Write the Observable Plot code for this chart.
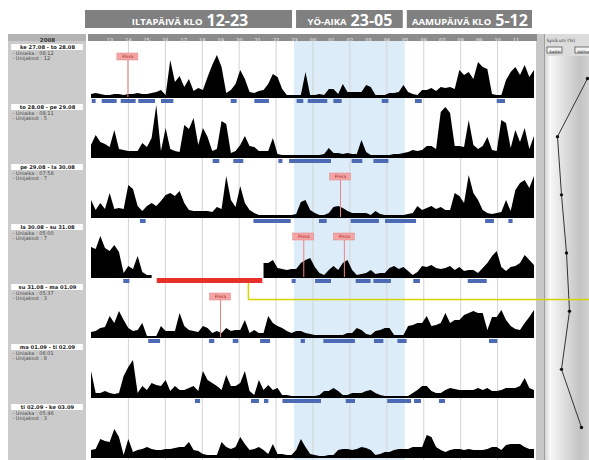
<!DOCTYPE html>
<html><head><meta charset="utf-8">
<script src="https://cdn.jsdelivr.net/npm/d3@7"></script>
<script src="https://cdn.jsdelivr.net/npm/@observablehq/plot@0.6"></script>
<style>
body{margin:0;background:#fff;}
#chart{position:relative;width:589px;height:460px;overflow:hidden;background:#fff;}
#chart svg{position:absolute;left:0;top:0;}
</style></head><body><div id="chart"></div>
<script>
// ---------- data ----------
const dayLabels = ["ke 27.08 - to 28.08","to 28.08 - pe 29.08","pe 29.08 - la 30.08","la 30.08 - su 31.08","su 31.08 - ma 01.09","ma 01.09 - ti 02.09","ti 02.09 - ke 03.09"];
const sleepTimes = ["08:12","08:11","07:58","05:00","05:37","06:01","05:46"];
const sleepCounts = [12,5,7,7,3,8,3];
const deepSleepPct = [42,12,16,21,24,16,36];

const periodNames = ["ILTAPÄIVÄ KLO","YÖ-AIKA","AAMUPÄIVÄ KLO"];
const periodRanges = ["12-23","23-05","5-12"];
const periodStart = [12,23,29];
const periodEnd = [23,29,36];

const hourTicks = [13,14,15,16,17,18,19,20,21,22,23,24,25,26,27,28,29,30,31,32,33,34,35];
const hourLabels = ["13","14","15","16","17","18","19","20","21","22","23","00","01","02","03","04","05","06","07","08","09","10","11"];
const gridHours = [14,16,18,20,22,24,26,28,30,32,34];

// activity, 15-minute readings from 12:00 to 12:00 next day
const activityRow1 = [3,4,3,2, 2,3,3,2, 3,3,4,3, 3,4,5,7, 2,37,15,21, 10,18,6,9, 7,20,32,42, 30,4,7,13, 27,18,5,4, 6,7,13,23, 20,8,2,2, 2,2,25,2, 2,3,2,8, 8,3,13,5, 5,5,5,12, 10,2,2,2, 4,4,5,12, 5,3,2,7, 7,9,6,10, 9,10,8,27, 22,25,18,35, 30,28,3,2, 2,17,25,30, 22,32,20,27];
const activityRow2 = [12,22,15,13, 10,27,8,7, 6,6,6,14, 10,19,52,6, 29,8,6,5, 32,28,39,12, 29,20,6,8, 36,33,4,6, 12,21,11,10, 6,6,6,19, 3,2,2,2, 2,2,2,2, 2,2,3,9, 4,4,3,4, 3,3,17,5, 2,2,2,2, 2,3,3,4, 5,7,6,7, 11,11,8,45, 50,44,11,11, 10,37,12,8, 11,20,7,6, 37,34,9,27, 15,29,8,21];
const activityRow3 = [17,7,14,8, 24,8,9,8, 32,28,11,6, 11,14,11,16, 22,24,21,26, 14,7,6,6, 6,6,5,10, 8,41,17,10, 31,14,7,4, 2,2,2,2, 2,2,2,2, 3,15,17,7, 4,2,2,4, 10,11,9,6, 4,4,4,4, 2,6,3,2, 2,2,2,2, 3,4,11,7, 9,11,8,10, 7,7,24,21, 14,42,24,17, 7,4,3,4, 5,17,6,27, 34,37,29,41];
const activityRow4 = [30,28,41,29, 26,32,25,4, 11,8,21,5, 2,2,null,null, null,null,null,null, null,null,null,null, null,null,null,null, null,null,null,null, null,null,null,null, null,14,14,17, 9,8,7,8, 8,14,17,19, 10,4,2,7, 11,7,14,17, 7,2,3,4, 7,3,4,4, 9,11,8,10, 6,2,5,11, 10,12,9,8, 9,11,7,10, 6,7,7,4, 9,14,21,26, 10,6,10,11, 14,22,17,12];
const activityRow5 = [5,6,9,10, 21,14,26,17, 9,6,7,14, 1,1,1,11, 6,6,6,24, 11,7,6,5, 11,9,4,6, 4,9,6,7, 7,17,4,7, 4,4,21,14, 11,9,6,4, 6,6,4,3, 2,2,2,2, 2,2,2,4, 4,9,7,3, 2,6,7,9, 9,2,2,2, 11,12,14,14, 21,11,12,14, 24,14,17,17, 22,24,26,24, 24,7,20,20, 27,17,11,8, 7,14,20,27];
const activityRow6 = [26,4,4,6, 4,3,4,21, 30,37,4,11, 7,14,12,11, 17,6,11,7, 7,9,11,6, 26,17,14,11, 7,22,11,11, 14,26,6,2, 17,7,12,7, 9,2,2,1, 1,1,1,1, 1,2,6,6, 9,6,2,2, 4,4,4,6, 7,4,2,1, 1,1,1,1, 1,4,7,11, 11,6,4,4, 7,9,8,7, 7,7,7,9, 7,9,6,6, 7,9,9,9, 11,19,9,7];
const activityRow7 = [7,8,18,16, 15,28,20,2, 18,5,7,8, 10,8,7,7, 8,8,9,10, 10,15,7,6, 3,2,2,2, 15,10,8,10, 20,13,7,8, 10,7,3,13, 3,3,2,2, 7,18,10,3, 2,1,1,2, 2,7,8,8, 7,8,10,9, 7,2,3,5, 5,7,8,8, 8,10,10,10, 22,20,10,7, 5,7,8,8, 7,8,7,7, 7,8,10,10, 7,12,13,13, 13,10,8,8];

// sleep periods (start hour, end hour) per row
const sleepRow1 = [[12.04,12.25],[12.58,13.39],[13.61,14.42],[14.56,15.47],[15.79,16.46],[19.57,19.89],[20.85,21.64],[23.14,23.5],[23.74,24.8],[25.13,25.58],[27.75,28.11],[29.55,29.92],[33.98,34.43]];
const sleepRow2 = [[18.59,18.95],[19.71,20.25],[22.15,22.37],[22.73,25.0],[26.12,26.7],[27.3,28.11]];
const sleepRow3 = [[14.65,14.96],[20.8,22.82],[24.35,24.77],[26.07,27.6],[27.93,29.61],[33.35,33.83],[34.61,34.84]];
const sleepRow4 = [[13.75,14.08],[22.87,23.09],[24.14,25.0],[26.34,27.15],[27.3,28.25],[29.46,29.82],[32.41,33.44]];
const sleepRow5 = [[15.1,15.74],[18.39,18.68],[19.68,19.98],[21.16,21.7],[23.36,23.59],[24.59,26.3],[27.33,27.84],[28.6,29.1],[33.56,34.01]];
const sleepRow6 = [[17.63,17.91],[20.67,21.1],[21.37,21.61],[22.37,24.46],[25.8,26.3],[28.05,29.34],[29.5,29.88],[30.85,31.18]];
const sleepRow7 = [];

// missing data (row, start, end)
const missingRows = [3];
const missingStart = [15.56];
const missingEnd = [21.28];

// event markers
const eventRows = [0,2,3,3,4];
const eventHours = [13.97,25.49,23.5,25.7,18.99];
const eventLabel = "Pissa";

// connector from missing-data bar
const connectorRow = 3;
const connectorHour = 20.5;

// ---------- build tables ----------
const activityRows = [activityRow1,activityRow2,activityRow3,activityRow4,activityRow5,activityRow6,activityRow7];
const sleepRows = [sleepRow1,sleepRow2,sleepRow3,sleepRow4,sleepRow5,sleepRow6,sleepRow7];
const activity = activityRows.flatMap((vals,row) => vals.map((v,i) => ({row, t: 12 + i*24/(vals.length-1), v})));
const sleepBars = sleepRows.flatMap((bars,row) => bars.map(([start,end]) => ({row,start,end})));
const missing = missingRows.map((row,i) => ({row, start: missingStart[i], end: missingEnd[i]}));
const events = eventRows.map((row,i) => ({row, t: eventHours[i]}));
const periods = periodNames.map((name,i) => ({name, range: periodRanges[i], start: periodStart[i], end: periodEnd[i]}));
const rowsMeta = dayLabels.map((label,row) => ({row,label,time: sleepTimes[row], count: sleepCounts[row], deep: deepSleepPct[row]}));

const px = 1/60; // y units per pixel inside a row band
const X = {domain:[12,36], range:[91,534]};
const Y = {domain:[0,6], range:[97,457]};
const xs = d3.scaleLinear(X.domain, X.range);

// banner text layout (two font sizes)
const ctx = document.createElement("canvas").getContext("2d");
const fontSmall = "bold 9.5px 'Open Sans'", fontBig = "bold 16px 'Open Sans'";
function tw(s, f){ctx.font = f; return ctx.measureText(s).width;}
periods.forEach((p,i) => {
  const wa = tw(p.name, fontSmall), wb = tw(p.range, fontBig), gap = 4;
  const x1 = i === 0 ? xs(p.start) - 6 : xs(p.start);
  const c = (x1 + xs(p.end)) / 2;
  p.joint = xs.invert(c - (wa + gap + wb)/2 + wa + gap/2);
});

const chart = document.getElementById("chart");

// ---------- right panel (deep sleep profile) ----------
const buttons = [{a:2,b:17,t:"Kaikki"},{a:30,b:46,t:"Valitse"}];
const right = Plot.plot({
  width:589, height:460, margin:0,
  style:{background:"transparent", fontFamily:"DejaVu Sans"},
  x:{domain:[0,100], range:[545,645], axis:null},
  y:{domain:[0,6], range:[78,427], axis:null},
  marks:[
    Plot.rect([{a:-9,b:-1}], {x1:"a", x2:"b", insetTop:34, fill:"#c8c8c8"}),
    Plot.rect([{a:-1,b:50}], {x1:"a", x2:"b", insetTop:34, insetBottom:404, fill:"#dcdcdc"}),
    Plot.rect([{a:-1,b:50}], {x1:"a", x2:"b", insetTop:56, fill:"url(#deepGrad)"}),
    Plot.ruleX([-1], {insetTop:34, stroke:"#9c9c9c"}),
    Plot.text(["Syvä uni (%)"], {x:()=>1, frameAnchor:"top", dy:38, textAnchor:"start", fontSize:4.5, fill:"#333"}),
    Plot.rect(buttons, {x1:"a", x2:"b", insetTop:47, insetBottom:407, fill:"#f4f4f4", stroke:"#555", strokeWidth:0.8}),
    Plot.text(buttons, {x:d=>(d.a+d.b)/2, text:"t", frameAnchor:"top", dy:50, fontSize:3.8, fill:"#333"}),
    Plot.line(rowsMeta, {x:"deep", y:"row", stroke:"#333", strokeWidth:1}),
    Plot.dot(rowsMeta, {x:"deep", y:"row", r:1.7, fill:"#111"})
  ]
});
const defs = document.createElementNS("http://www.w3.org/2000/svg","defs");
defs.innerHTML = '<linearGradient id="deepGrad" x1="0" x2="1" y1="0" y2="0"><stop offset="0" stop-color="#d0d0d0"/><stop offset="0.12" stop-color="#f7f7f7"/><stop offset="0.7" stop-color="#c4c4c4"/><stop offset="1" stop-color="#dadada"/></linearGradient>';
right.prepend(defs);
chart.appendChild(right);

// ---------- left panel ----------
const left = Plot.plot({
  width:589, height:460, margin:0,
  style:{background:"transparent", fontFamily:"DejaVu Sans"},
  x:{domain:[0,1], range:[8,86], axis:null},
  y:{...Y, axis:null},
  marks:[
    Plot.rect([{a:0,b:1}], {x1:"a", x2:"b", insetTop:34, fill:"#cbcbcb"}),
    Plot.rect([{a:0,b:1}], {x1:"a", x2:"b", insetTop:34, insetBottom:419, fill:"#b3b3b3"}),
    Plot.text(["2008"], {x:()=>0.5, frameAnchor:"top", dy:37.5, fontSize:5.5, fontWeight:"bold", fill:"#333"}),
    Plot.rect(rowsMeta, {x1:()=>0.04, x2:()=>0.96, y1:d=>d.row-53*px, y2:d=>d.row-47*px, fill:"white"}),
    Plot.text(rowsMeta, {x:()=>0.5, y:d=>d.row-50*px, text:"label", fontSize:5.2, fontWeight:"bold", fill:"#222"}),
    Plot.text(rowsMeta, {x:()=>0.05, y:d=>d.row-44*px, text:d=>"- Uniaika : "+d.time, textAnchor:"start", fontSize:5, fill:"#444"}),
    Plot.text(rowsMeta, {x:()=>0.05, y:d=>d.row-39*px, text:d=>"- Unijaksot : "+d.count, textAnchor:"start", fontSize:5, fill:"#444"})
  ]
});
chart.appendChild(left);

// ---------- main activity chart ----------
const main = Plot.plot({
  width:589, height:460, margin:0,
  style:{background:"transparent", fontFamily:"DejaVu Sans"},
  x:{...X, axis:null},
  y:{...Y, axis:null},
  marks:[
    // period banners (first one reaches a little past the day's start)
    Plot.rect(periods, {x1:"start", x2:"end", insetTop:10, insetBottom:432, insetLeft:2, insetRight:2, fill:"#808080"}),
    Plot.rect(periods.slice(0,1), {x1:"start", x2:"start", insetTop:10, insetBottom:432, insetLeft:-6, insetRight:-2, fill:"#808080"}),
    Plot.text(periods, {x:"joint", text:"name", frameAnchor:"top", dy:24.5, lineAnchor:"bottom", textAnchor:"end", dx:-2, fill:"white", fontSize:9.5, fontWeight:"bold", fontFamily:"Open Sans"}),
    Plot.text(periods, {x:"joint", text:"range", frameAnchor:"top", dy:25, lineAnchor:"bottom", textAnchor:"start", dx:2, fill:"white", fontSize:16, fontWeight:"bold", fontFamily:"Open Sans"}),
    // hour header band
    Plot.rect([{a:12,b:36}], {x1:"a", x2:"b", insetTop:34, insetBottom:419, insetLeft:-3, insetRight:-3, fill:"#8c8c8c"}),
    Plot.text(hourTicks, {x:d=>d, text:(d,i)=>hourLabels[i], frameAnchor:"top", dy:37.5, fill:"#f0f0f0", fontSize:5}),
    // night shading
    Plot.rect([{a:23,b:29}], {x1:"a", x2:"b", insetTop:41, fill:"#dcecf9"}),
    // grid
    Plot.ruleX(gridHours, {insetTop:41, stroke:"#d3d3d3", strokeWidth:1}),
    // activity
    Plot.areaY(activity, {x:"t", y1:d=>d.v==null?null:d.row+1*px, y2:d=>d.v==null?null:d.row-d.v*px, z:"row", fill:"#000", curve:"linear"}),
    // sleep periods
    Plot.rect(sleepBars, {x1:"start", x2:"end", y1:d=>d.row+2*px, y2:d=>d.row+6*px, fill:"#4d6bb5"}),
    // missing data
    Plot.rect(missing, {x1:"start", x2:"end", y1:d=>d.row+1*px, y2:d=>d.row+6*px, fill:"#e8302a"}),
    // connector
    Plot.line([{t:connectorHour, y:connectorRow+6*px},{t:connectorHour, y:connectorRow+22*px},{t:40, y:connectorRow+22*px}], {x:"t", y:"y", stroke:"#d4d400", strokeWidth:1.5}),
    // events
    Plot.ruleX(events, {x:"t", y1:d=>d.row, y2:d=>d.row-37*px, stroke:"#ee8484", strokeWidth:1}),
    Plot.rect(events, {x1:d=>d.t-0.57, x2:d=>d.t+0.57, y1:d=>d.row-44*px, y2:d=>d.row-37*px, fill:"#f3a5a5", stroke:"#e58585", strokeWidth:0.5}),
    Plot.text(events, {x:"t", y:d=>d.row-40.5*px, text:()=>eventLabel, fontSize:4.5, fill:"#b02a2a"})
  ]
});
chart.appendChild(main);
</script>
</body></html>
